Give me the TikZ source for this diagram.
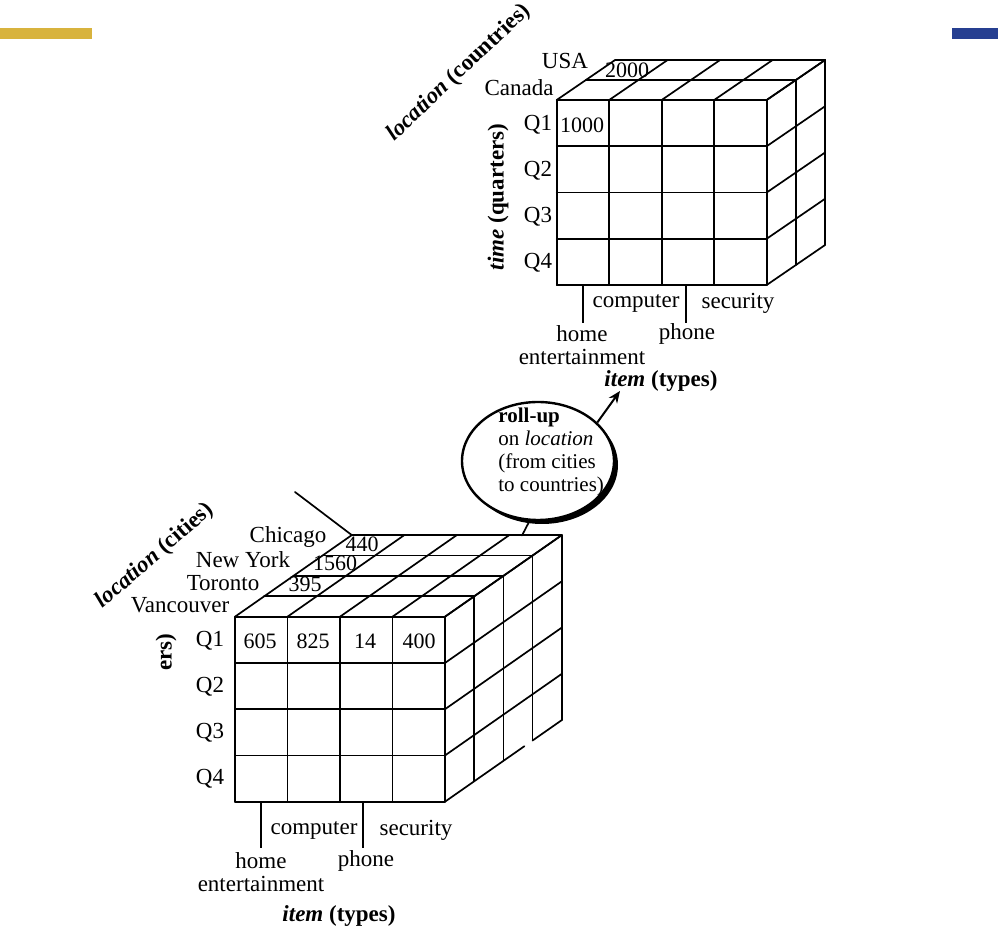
\documentclass[tikz,border=0pt]{standalone}
\usepackage{fontspec}
\setmainfont{Liberation Serif}
\usetikzlibrary{arrows.meta,shapes.geometric}
\definecolor{barGold}{HTML}{D8B33D}
\definecolor{barBlue}{HTML}{263F91}
\begin{document}
\begin{tikzpicture}[x=0.5pt,y=-0.5pt,
  cube/.style={line width=0.85pt, line cap=round, line join=round},
  lab/.style={font=\fontsize{11.5}{13}\selectfont, inner sep=0pt},
  num/.style={font=\fontsize{11}{13}\selectfont, inner sep=0pt},
  axislab/.style={font=\fontsize{11.5}{13}\selectfont\bfseries, inner sep=0pt},
  tick/.style={line width=0.85pt}]
\useasboundingbox (0,0) rectangle (998,946);
\fill[barGold] (0,28) rectangle (92,39);
\fill[barBlue] (952,28) rectangle (998,39);

% ---------- top cube (countries) ----------
\begin{scope}[shift={(556.7,100)}]
  \foreach \i in {0,...,4} \draw[cube] (52.5*\i,0) -- (52.5*\i,185);
  \foreach \j in {0,...,4} \draw[cube] (0,46.25*\j) -- (210,46.25*\j);
  \foreach \i in {0,...,4} \draw[cube] (52.5*\i,0) -- ++(58.4,-40);
  \foreach \k in {1,2} \draw[cube] (29.2*\k,-20*\k) -- ++(210,0);
  \foreach \j in {0,...,4} \draw[cube] (210,46.25*\j) -- ++(58.4,-40);
  \foreach \k in {1,2} \draw[cube] (210+29.2*\k,-20*\k) -- ++(0,185);
\end{scope}
\node[lab] (usa) at (565,61) {USA};
\node[lab] (canada) at (519,88) {Canada};
\node[lab] (tq1) at (538,125) {Q1};
\node[lab] (tq2) at (538,171) {Q2};
\node[lab] (tq3) at (538,217) {Q3};
\node[lab] (tq4) at (538,263) {Q4};
\node[num] (t1000) at (582,125) {1000};
\node[num] (t2000) at (627,70) {2000};
\node[axislab, rotate=90] (ttime) at (498,197) {\textit{time} (quarters)};
\node[axislab, rotate=43.5] (tloc) at (459,73) {\textit{location} (countries)};
\draw[tick] (583,285) -- (583,323);
\draw[tick] (686,285) -- (686,323);
\node[lab] (tcomp) at (636,303) {computer};
\node[lab] (tsec) at (738,303) {security};
\node[lab] (thome) at (582,334) {home};
\node[lab] (tphone) at (687,334) {phone};
\node[lab] (tent) at (582,357) {entertainment};
\node[axislab] (titem) at (661,381) {\textit{item} (types)};

% ---------- bottom cube (cities) ----------
\begin{scope}[shift={(235,616.7)}]
  \foreach \i in {0,...,4} \draw[cube] (52.5*\i,0) -- (52.5*\i,185);
  \foreach \j in {0,...,4} \draw[cube] (0,46.25*\j) -- (210,46.25*\j);
  \foreach \i in {0,...,4} \draw[cube] (52.5*\i,0) -- ++(116.8,-81.6);
  \foreach \k in {1,...,4} \draw[cube] (29.2*\k,-20.4*\k) -- ++(210,0);
  \foreach \j in {0,...,3} \draw[cube] (210,46.25*\j) -- ++(116.8,-81.6);
  \draw[cube] (210,185) -- (289.4,129.5);
  \draw[cube] (297.6,123.8) -- (326.8,103.4);
  \foreach \k in {1,...,4} \draw[cube] (210+29.2*\k,-20.4*\k) -- ++(0,185);
\end{scope}
\node[lab] (chicago) at (288,537) {Chicago};
\node[lab] (newyork) at (243,560) {New York};
\node[lab] (toronto) at (223,583) {Toronto};
\node[lab] (vancouver) at (180,605) {Vancouver};
\node[num] (b440) at (362,544) {440};
\node[num] (b1560) at (335,563) {1560};
\node[num] (b395) at (305,584) {395};
\node[lab] (bq1) at (210,641) {Q1};
\node[lab] (bq2) at (210,687) {Q2};
\node[lab] (bq3) at (210,733) {Q3};
\node[lab] (bq4) at (210,779) {Q4};
\node[num] (b605) at (260,641) {605};
\node[num] (b825) at (313,641) {825};
\node[num] (b14) at (365,641) {14};
\node[num] (b400) at (419,641) {400};
\node[axislab, rotate=90] (bers) at (166,652) {ers)};
\node[axislab, rotate=41] (bloc) at (155,556) {\textit{location} (cities)};
\draw[tick] (261,801.7) -- (261,848);
\draw[tick] (363,801.7) -- (363,848);
\node[lab] (bcomp) at (314,830) {computer};
\node[lab] (bsec) at (416,830) {security};
\node[lab] (bhome) at (261,861) {home};
\node[lab] (bphone) at (366,861) {phone};
\node[lab] (bent) at (261,884) {entertainment};
\node[axislab] (bitem) at (339,916) {\textit{item} (types)};

\coordinate (lineStart) at (295,492);
\coordinate (lineEnd) at (351.8,535.1);
\draw[cube] (lineStart) -- (lineEnd);

% ---------- roll-up ellipse ----------
\fill[black] (542,465) ellipse [x radius=76, y radius=59];
\node[draw, ellipse, fill=white, line width=1.2pt, minimum width=76pt, minimum height=59pt, inner sep=0pt] (rollup) at (538,461) {};
\node[anchor=north west, align=left, font=\fontsize{10.5}{11.5}\selectfont, inner sep=0pt] (rolltext) at (498,408)
  {\textbf{roll-up}\\on \textit{location}\\(from cities\\to countries)};
\coordinate (arrTip) at (620,391);
\draw[line width=1pt, -{Stealth[length=6pt,width=5pt]}] (rollup.33) -- (arrTip);
\coordinate (cubeTop) at (522,535.5);
\draw[cube] (rollup.262) -- (cubeTop);
\end{tikzpicture}
\end{document}
